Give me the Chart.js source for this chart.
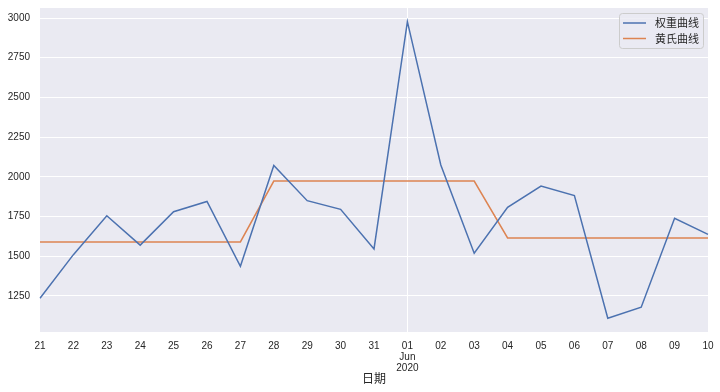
<!DOCTYPE html>
<html>
<head>
<meta charset="utf-8">
<script src="https://cdn.jsdelivr.net/npm/chart.js@4"></script>
<style>
  html, body { margin: 0; padding: 0; background: #fff; }
  #wrap { width: 720px; height: 392px; position: relative; }
</style>
</head>
<body>
<div id="wrap"><canvas id="chart"></canvas></div>
<script>
// dates May 21 .. Jun 10 2020
const dayLabels = ['21', '22', '23', '24', '25', '26', '27', '28', '29', '30', '31',
    '01', '02', '03', '04', '05', '06', '07', '08', '09', '10'];
const weightSeries = [1235, 1510, 1755, 1570, 1780, 1845, 1437, 2072, 1850, 1795, 1546,
    2977, 2075, 1519, 1808, 1942, 1882, 1110, 1179, 1739, 1638];
const huangSeries = [1590, 1590, 1590, 1590, 1590, 1590, 1590, 1973, 1973, 1973, 1973,
    1973, 1973, 1973, 1615, 1615, 1615, 1615, 1615, 1615, 1615];
const yTicks = [1250, 1500, 1750, 2000, 2250, 2500, 2750, 3000];
const seriesNames = ['权重曲线', '黄氏曲线'];

const BLUE = '#4C72B0';
const ORANGE = '#DD8452';
const FONT = "'Liberation Sans', Arial, 'Noto Sans CJK SC', sans-serif";
const CJK = "'Noto Sans CJK SC', sans-serif";

const bgPlugin = {
    id: 'bg',
    beforeDraw(chart) {
        const { ctx, chartArea: a } = chart;
        ctx.save();
        ctx.fillStyle = '#EAEAF2';
        ctx.fillRect(a.left, a.top, a.right - a.left, a.bottom - a.top);
        ctx.restore();
    }
};

// matplotlib style legend box in the top right corner
const boxLegend = {
    id: 'boxLegend',
    afterDraw(chart) {
        const { ctx, chartArea: a } = chart;
        const x = a.right - 89, y = a.top + 5, w = 84, h = 35;
        ctx.save();
        ctx.fillStyle = 'rgba(234,234,242,0.8)';
        ctx.strokeStyle = '#cccccc';
        ctx.lineWidth = 1;
        ctx.beginPath();
        ctx.roundRect(x + 0.5, y + 0.5, w, h, 3);
        ctx.fill();
        ctx.stroke();
        chart.data.datasets.forEach((ds, i) => {
            const ly = y + 10 + i * 15.5;
            ctx.strokeStyle = ds.borderColor;
            ctx.lineWidth = 1.5;
            ctx.beginPath();
            ctx.moveTo(x + 4, ly);
            ctx.lineTo(x + 27, ly);
            ctx.stroke();
            ctx.fillStyle = '#262626';
            ctx.font = '11px ' + CJK;
            ctx.textBaseline = 'middle';
            ctx.fillText(ds.label, x + 36, ly);
        });
        ctx.restore();
    }
};

new Chart(document.getElementById('chart'), {
    type: 'line',
    data: {
        labels: dayLabels,
        datasets: [
            { label: seriesNames[0], data: weightSeries, borderColor: BLUE, borderWidth: 1.5, pointRadius: 0, tension: 0 },
            { label: seriesNames[1], data: huangSeries, borderColor: ORANGE, borderWidth: 1.5, pointRadius: 0, tension: 0 },
        ],
    },
    options: {
        responsive: true, maintainAspectRatio: false, animation: false,
        layout: { padding: { left: 0, right: 12, top: 8, bottom: 0 } },
        plugins: { legend: { display: false }, tooltip: { enabled: false } },
        scales: {
            x: {
                type: 'category',
                offset: false,
                border: { display: false },
                grid: {
                    drawTicks: false,
                    color: c => (c.index === 11 ? '#ffffff' : 'rgba(0,0,0,0)'),
                    lineWidth: 1,
                },
                ticks: {
                    autoSkip: false, maxRotation: 0, padding: 9,
                    color: '#262626',
                    font: { family: FONT, size: 10, lineHeight: 1.1 },
                    callback: (v, i) => (i === 11 ? ['01', 'Jun', '2020'] : dayLabels[i]),
                },
                title: {
                    display: true, text: '日期', color: '#262626',
                    font: { family: CJK, size: 12 },
                    padding: { top: 0, bottom: 6 },
                },
                afterFit(s) { s.height = 60; s.paddingLeft = 0; s.paddingRight = 0; },
            },
            y: {
                min: 1023, max: 3063,
                border: { display: false },
                grid: { drawTicks: false, color: '#ffffff', lineWidth: 1 },
                afterBuildTicks(s) { s.ticks = yTicks.map(v => ({ value: v })); },
                ticks: {
                    padding: 10, color: '#262626',
                    font: { family: FONT, size: 10 },
                    callback: v => String(v),
                },
                afterFit(s) { s.width = 40; s.paddingTop = 0; s.paddingBottom = 0; },
            },
        },
    },
    plugins: [bgPlugin, boxLegend],
});
</script>
</body>
</html>
